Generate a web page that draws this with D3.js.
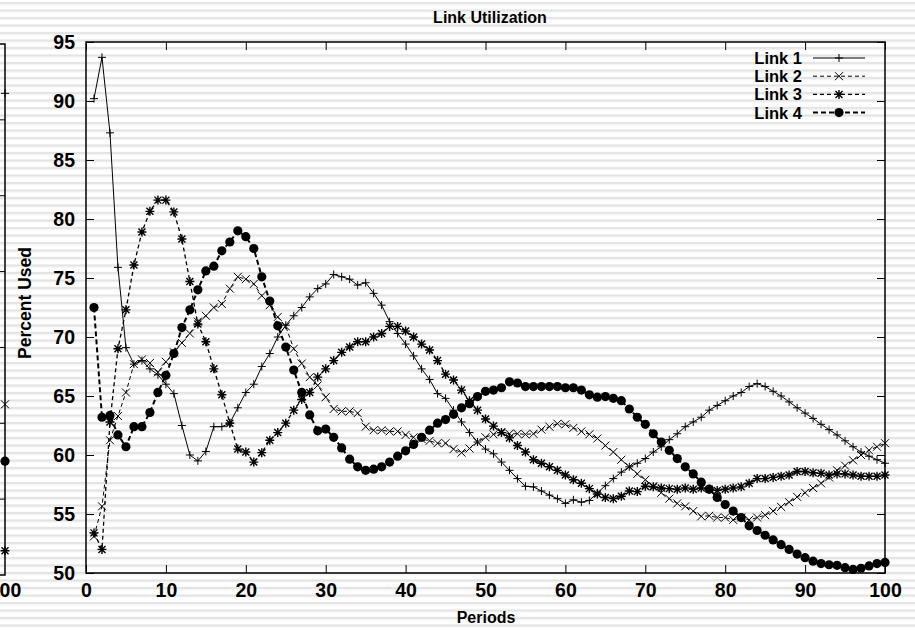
<!DOCTYPE html>
<html>
<head>
<meta charset="utf-8">
<script src="https://cdn.jsdelivr.net/npm/d3@7"></script>
<style>
  body { margin: 0; background: #fff; }
  svg text { font-family: "Liberation Sans", Arial, Helvetica, sans-serif; font-weight: bold; fill: #000; }
</style>
</head>
<body>
<svg id="chart" width="915" height="630"></svg>
<script>
// periods on the x axis
var periods = d3.range(1, 101);
var xTicks = [0, 10, 20, 30, 40, 50, 60, 70, 80, 90, 100];
var yTicks = [50, 55, 60, 65, 70, 75, 80, 85, 90, 95];
var seriesNames = ["Link 1", "Link 2", "Link 3", "Link 4"];

var link1 = [90.2, 93.7, 87.3, 75.9, 69.1, 67.7, 68.0, 67.3, 66.8, 66.0,
  65.2, 62.5, 60.0, 59.5, 60.3, 62.4, 62.4, 62.7, 64.0, 65.3,
  66.0, 67.5, 68.6, 70.0, 71.0, 71.8, 72.5, 73.4, 74.1, 74.5,
  75.3, 75.1, 74.9, 74.4, 74.6, 73.7, 72.7, 71.3, 70.3, 69.4,
  68.4, 67.3, 66.4, 65.2, 64.8, 63.8, 62.8, 61.9, 61.1, 60.5,
  60.1, 59.4, 58.7, 58.0, 57.35, 57.3, 56.95, 56.6, 56.3, 55.9,
  56.2, 56.0, 56.15, 56.8, 57.4, 58.0, 58.55, 59.0, 59.3, 59.7,
  60.25, 60.7, 61.3, 61.8, 62.4, 62.8, 63.2, 63.8, 64.2, 64.6,
  65.0, 65.3, 65.8, 66.05, 65.8, 65.4, 65.0, 64.5, 64.0, 63.55,
  63.1, 62.6, 62.15, 61.7, 61.2, 60.7, 60.25, 59.9, 59.6, 59.3];

var link2 = [53.1, 55.65, 61.25, 63.3, 65.3, 67.7, 68.1, 67.8, 67.0, 67.9,
  68.7, 69.5, 70.3, 71.3, 71.8, 72.5, 72.8, 74.1, 75.1, 74.9,
  74.5, 73.5, 72.7, 71.7, 70.9, 69.0, 67.75, 66.6, 65.9, 64.9,
  63.9, 63.7, 63.7, 63.55, 62.4, 62.1, 62.1, 62.0, 62.0, 61.7,
  61.5, 61.35, 61.2, 61.0, 61.0, 60.5, 60.2, 60.55, 61.1, 61.5,
  61.75, 61.95, 61.8, 61.8, 61.75, 61.8, 62.15, 62.4, 62.65, 62.6,
  62.3, 62.0, 61.75, 61.4, 60.8, 60.25, 59.6, 59.0, 58.4, 57.9,
  57.35, 56.8, 56.3, 55.9, 55.65, 55.25, 54.8, 54.85, 54.7, 54.7,
  54.5, 54.7, 54.5, 54.7, 54.9, 55.25, 55.6, 56.0, 56.45, 56.8,
  57.2, 57.6, 58.1, 58.7, 59.1, 59.55, 60.0, 60.4, 60.7, 61.0];

var link3 = [53.4, 52.0, 62.8, 69.0, 72.3, 76.1, 78.9, 80.65, 81.6, 81.6,
  80.6, 78.3, 74.7, 71.1, 69.6, 67.3, 65.1, 62.7, 60.5, 60.25,
  59.4, 60.2, 61.25, 61.9, 62.7, 63.8, 64.7, 65.3, 66.6, 67.3,
  68.0, 68.7, 69.15, 69.6, 69.6, 70.0, 70.3, 70.9, 70.9, 70.5,
  70.0, 69.4, 68.9, 68.0, 66.85, 66.35, 65.5, 64.6, 63.8, 63.05,
  62.45, 61.9, 61.45, 60.8, 60.25, 59.6, 59.3, 59.0, 58.7, 58.3,
  57.9, 57.6, 57.15, 56.7, 56.4, 56.3, 56.5, 56.95, 56.9, 57.35,
  57.3, 57.2, 57.15, 57.1, 57.2, 57.1, 57.2, 57.1, 57.0, 57.1,
  57.2, 57.3, 57.6, 58.0, 58.0, 58.1, 58.2, 58.3, 58.6, 58.6,
  58.5, 58.45, 58.3, 58.4, 58.4, 58.3, 58.2, 58.2, 58.2, 58.3];

var link4 = [72.5, 63.2, 63.35, 61.7, 60.7, 62.4, 62.4, 63.6, 65.3, 66.75,
  68.6, 70.8, 72.3, 74.0, 75.6, 76.0, 77.3, 78.05, 79.0, 78.5,
  77.5, 75.1, 73.05, 70.95, 69.15, 67.2, 65.3, 63.4, 62.05, 62.2,
  61.5, 60.6, 59.65, 59.0, 58.7, 58.8, 59.0, 59.4, 59.9, 60.35,
  60.9, 61.5, 62.1, 62.7, 63.0, 63.45, 64.0, 64.35, 64.95, 65.4,
  65.5, 65.7, 66.2, 66.1, 65.8, 65.8, 65.8, 65.8, 65.8, 65.7,
  65.7, 65.5, 65.1, 64.9, 64.95, 64.8, 64.6, 63.9, 63.2, 62.6,
  61.8, 61.1, 60.4, 59.7, 59.0, 58.4, 57.7, 57.1, 56.4, 55.8,
  55.25, 54.7, 54.0, 53.6, 53.2, 52.8, 52.4, 52.0, 51.6, 51.3,
  51.0, 50.8, 50.7, 50.65, 50.45, 50.3, 50.4, 50.6, 50.8, 50.9];

// the neighbouring plot cut off at the left edge: its last values at period 100
var leftPanelTicks = [30, 40, 50, 60, 70, 80, 90, 100];
var leftPanelLast = [93.5, 52.5, 33.2, 45.0];

var allSeries = [link1, link2, link3, link4];

var svg = d3.select("#chart");

// striped background
var defs = svg.append("defs");
var pat = defs.append("pattern")
    .attr("id", "stripes")
    .attr("patternUnits", "userSpaceOnUse")
    .attr("width", 915)
    .attr("height", 7.5);
pat.append("rect").attr("width", 915).attr("height", 7.5).attr("fill", "#fff");
pat.append("rect").attr("y", 2).attr("width", 915).attr("height", 2).attr("fill", "#e2e2e2");
pat.append("rect").attr("y", 4).attr("width", 915).attr("height", 1).attr("fill", "#f0f0f0");
svg.append("rect").attr("width", 915).attr("height", 630).attr("fill", "url(#stripes)");

var plotL = 86, plotR = 885, plotT = 42, plotB = 573;
var x = d3.scaleLinear().domain([0, 100]).range([plotL, plotR]);
var y = d3.scaleLinear().domain([50, 95]).range([plotB, plotT]);

// marker shapes
function marker(g, kind) {
  if (kind === 0) {
    g.append("path").attr("d", "M-4,0H4M0,-4V4").attr("stroke", "#000").attr("stroke-width", 1);
  } else if (kind === 1) {
    g.append("path").attr("d", "M-4,-4L4,4M-4,4L4,-4").attr("stroke", "#000").attr("stroke-width", 1);
  } else if (kind === 2) {
    g.append("path").attr("d", "M-4.5,0H4.5M0,-4.5V4.5M-3.5,-3.5L3.5,3.5M-3.5,3.5L3.5,-3.5")
      .attr("stroke", "#000").attr("stroke-width", 1.4);
  } else {
    g.append("circle").attr("r", 4.6).attr("fill", "#000");
  }
}

var styles = [
  {dash: null, width: 1},
  {dash: "4,3", width: 1},
  {dash: "4,3", width: 1.3},
  {dash: "5,3", width: 2}
];

// left partial panel
var xl = d3.scaleLinear().domain([0, 100]).range([-795, 5]);
var yl = d3.scaleLinear().domain([30, 100]).range([575, 44]);
var lp = svg.append("g");
lp.append("path")
  .attr("d", "M-10," + yl(100) + "H" + xl(100) + "V" + yl(30) + "H-10")
  .attr("fill", "none").attr("stroke", "#000").attr("stroke-width", 1.5);
lp.selectAll("line.lt").data(leftPanelTicks.slice(1, -1)).join("line")
  .attr("x1", xl(100) - 8).attr("x2", xl(100))
  .attr("y1", function(d) { return yl(d); }).attr("y2", function(d) { return yl(d); })
  .attr("stroke", "#000").attr("stroke-width", 1);
leftPanelLast.forEach(function(v, i) {
  var g = lp.append("g").attr("transform", "translate(" + xl(100) + "," + yl(v) + ")");
  marker(g, i);
});
lp.append("text").attr("x", xl(100)).attr("y", 597).attr("text-anchor", "middle")
  .attr("font-size", 19.5).text("100");

// series lines
allSeries.forEach(function(vals, i) {
  var pts = periods.map(function(p, j) { return [p, vals[j]]; });
  svg.append("path")
    .datum(pts)
    .attr("fill", "none")
    .attr("stroke", "#000")
    .attr("stroke-width", styles[i].width)
    .attr("stroke-dasharray", styles[i].dash)
    .attr("d", d3.line().x(function(d) { return x(d[0]); }).y(function(d) { return y(d[1]); }));
});
allSeries.forEach(function(vals, i) {
  periods.forEach(function(p, j) {
    var g = svg.append("g").attr("transform", "translate(" + x(p) + "," + y(vals[j]) + ")");
    marker(g, i);
  });
});

// axes with inward ticks on all four sides
svg.append("g").attr("transform", "translate(0," + plotB + ")")
  .call(d3.axisBottom(x).tickValues(xTicks).tickSize(-8).tickPadding(10));
svg.append("g").attr("transform", "translate(" + plotL + ",0)")
  .call(d3.axisLeft(y).tickValues(yTicks).tickSize(-8).tickPadding(11));
svg.append("g").attr("transform", "translate(0," + plotT + ")")
  .call(d3.axisTop(x).tickValues(xTicks).tickSize(-8).tickFormat(""));
svg.append("g").attr("transform", "translate(" + plotR + ",0)")
  .call(d3.axisRight(y).tickValues(yTicks).tickSize(-8).tickFormat(""));
svg.selectAll(".domain").remove();
svg.selectAll(".tick line").attr("stroke", "#000").attr("stroke-width", 1);
svg.selectAll(".tick text").attr("font-size", 19.5).attr("font-family", null).attr("fill", "#000");

// frame
svg.append("rect").attr("x", plotL).attr("y", plotT)
  .attr("width", plotR - plotL).attr("height", plotB - plotT)
  .attr("fill", "none").attr("stroke", "#000").attr("stroke-width", 1.5);

// titles
svg.append("text").attr("x", 490).attr("y", 23).attr("text-anchor", "middle")
  .attr("font-size", 16).text("Link Utilization");
svg.append("text").attr("x", 486).attr("y", 623).attr("text-anchor", "middle")
  .attr("font-size", 16).text("Periods");
svg.append("text").attr("transform", "translate(31,303) rotate(-90)").attr("text-anchor", "middle")
  .attr("font-size", 17.5).text("Percent Used");

// legend
var leg = svg.append("g");
seriesNames.forEach(function(name, i) {
  var by = 64 + i * 18.2;
  leg.append("text").attr("x", 802).attr("y", by).attr("text-anchor", "end")
    .attr("font-size", 16.5).text(name);
  leg.append("line").attr("x1", 813).attr("x2", 865).attr("y1", by - 6).attr("y2", by - 6)
    .attr("stroke", "#000").attr("stroke-width", styles[i].width)
    .attr("stroke-dasharray", styles[i].dash);
  var g = leg.append("g").attr("transform", "translate(839," + (by - 6) + ")");
  marker(g, i);
});
</script>
</body>
</html>
